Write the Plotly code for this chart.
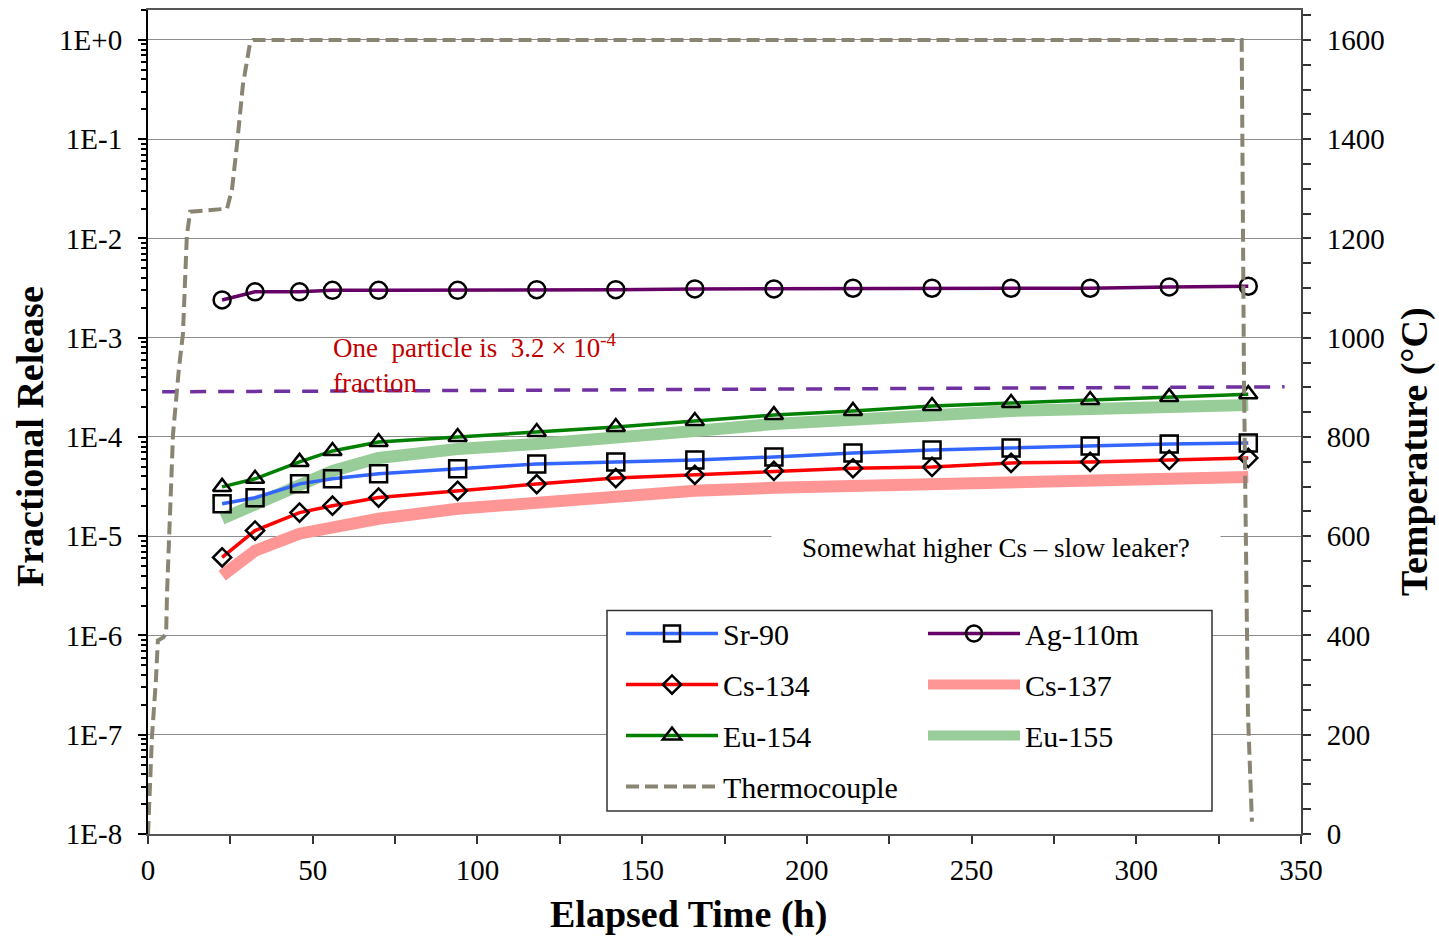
import plotly.graph_objects as go

# ---------------- data ----------------
time_h = [22.5, 32.5, 46, 56, 70, 94, 118, 142, 166, 190, 214, 238, 262, 286, 310, 334]

sr90 = [2.12e-5, 2.44e-5, 3.37e-5, 3.79e-5, 4.25e-5, 4.77e-5, 5.35e-5, 5.61e-5,
        5.87e-5, 6.29e-5, 6.90e-5, 7.40e-5, 7.75e-5, 8.12e-5, 8.51e-5, 8.70e-5]
ag110m = [2.4e-3, 2.9e-3, 2.9e-3, 3.0e-3, 3.0e-3, 3.0e-3, 3.05e-3, 3.05e-3,
          3.1e-3, 3.1e-3, 3.15e-3, 3.15e-3, 3.15e-3, 3.15e-3, 3.25e-3, 3.3e-3]
cs134 = [6.12e-6, 1.14e-5, 1.73e-5, 2.03e-5, 2.45e-5, 2.87e-5, 3.35e-5, 3.85e-5,
         4.15e-5, 4.55e-5, 4.84e-5, 4.99e-5, 5.48e-5, 5.61e-5, 5.87e-5, 6.15e-5]
cs137 = [4.01e-6, 7.15e-6, 1.06e-5, 1.22e-5, 1.50e-5, 1.89e-5, 2.19e-5, 2.55e-5,
         2.87e-5, 3.07e-5, 3.22e-5, 3.45e-5, 3.61e-5, 3.70e-5, 3.87e-5, 3.96e-5]
eu154 = [3.14e-5, 3.79e-5, 5.61e-5, 7.23e-5, 8.91e-5, 1.0e-4, 1.12e-4, 1.26e-4,
         1.45e-4, 1.66e-4, 1.83e-4, 2.05e-4, 2.20e-4, 2.36e-4, 2.52e-4, 2.70e-4]
eu155 = [1.50e-5, 2.12e-5, 3.30e-5, 4.55e-5, 6.15e-5, 7.57e-5, 8.51e-5, 1.02e-4,
         1.15e-4, 1.35e-4, 1.52e-4, 1.66e-4, 1.83e-4, 1.91e-4, 2.00e-4, 2.10e-4]

tc_time = [0, 0.6, 1.2, 2.4, 3.0, 4.6, 5.5, 5.8, 7.6, 9.4, 10.6, 11.8, 12.8, 24.0,
           25.5, 27.0, 28.8, 31.0, 31.9, 332.0, 332.4, 332.7, 333.9, 335.1]
tc_temp = [0, 108, 195, 310, 390, 396, 404, 490, 806, 939, 1007, 1206, 1254, 1260,
           1299, 1388, 1509, 1595, 1600, 1600, 1073, 912, 243, 25]

particle_time = [4.3, 345]
particle_frac = [2.85e-4, 3.2e-4]

left_tickvals = [1e-8, 1e-7, 1e-6, 1e-5, 1e-4, 1e-3, 1e-2, 1e-1, 1]
left_ticktext = ["1E-8", "1E-7", "1E-6", "1E-5", "1E-4", "1E-3", "1E-2", "1E-1", "1E+0"]
right_tickvals = [0, 200, 400, 600, 800, 1000, 1200, 1400, 1600]
x_tickvals = [0, 50, 100, 150, 200, 250, 300, 350]

FONT = "Liberation Serif, Times New Roman, serif"

fig = go.Figure()

# thick bands first
fig.add_trace(go.Scatter(x=time_h, y=cs137, name="Cs-137", mode="lines",
                         line=dict(color="rgb(255,150,150)", width=12),
                         legend="legend2", legendgroup="cs137", legendrank=2))
fig.add_trace(go.Scatter(x=time_h, y=eu155, name="Eu-155", mode="lines",
                         line=dict(color="rgb(152,204,152)", width=12),
                         legend="legend2", legendgroup="eu155", legendrank=3))


def mk(symbol, size):
    return dict(symbol=symbol, color="black", size=size, line=dict(color="black", width=2.5))


fig.add_trace(go.Scatter(x=time_h, y=sr90, name="Sr-90", mode="lines+markers",
                         line=dict(color="rgb(51,102,255)", width=3.5),
                         marker=mk("square-open", 17),
                         legendgroup="sr90", legendrank=1))
fig.add_trace(go.Scatter(x=time_h, y=cs134, name="Cs-134", mode="lines+markers",
                         line=dict(color="rgb(255,0,0)", width=3.5),
                         marker=mk("diamond-open", 14),
                         legendgroup="cs134", legendrank=2))
fig.add_trace(go.Scatter(x=time_h, y=eu154, name="Eu-154", mode="lines+markers",
                         line=dict(color="rgb(0,128,0)", width=3.5),
                         marker=mk("triangle-up-open", 16),
                         legendgroup="eu154", legendrank=3))
fig.add_trace(go.Scatter(x=time_h, y=ag110m, name="Ag-110m", mode="lines+markers",
                         line=dict(color="rgb(102,0,102)", width=3.5),
                         marker=mk("circle-open", 17),
                         legend="legend2", legendgroup="ag110m", legendrank=1))

fig.add_trace(go.Scatter(x=particle_time, y=particle_frac, mode="lines", showlegend=False,
                         line=dict(color="rgb(112,48,160)", width=3.5, dash="16px,12px"),
                         hoverinfo="skip"))

fig.add_trace(go.Scatter(x=tc_time, y=tc_temp, name="Thermocouple", mode="lines",
                         line=dict(color="rgb(138,133,115)", width=4, dash="13px,6px"),
                         yaxis="y2", legendgroup="tc", legendrank=4))

fig.update_layout(
    width=1439, height=936,
    margin=dict(l=148, r=138, t=8, b=102),
    paper_bgcolor="white", plot_bgcolor="white",
    font=dict(family=FONT, size=29, color="black"),
    xaxis=dict(range=[0, 350], tickvals=x_tickvals, ticks="outside", ticklen=8,
               tickwidth=2, tickcolor="#333", showgrid=False, zeroline=False,
               showline=True, linecolor="#555", linewidth=2, mirror=True,
               minor=dict(ticks="outside", ticklen=8, tickwidth=2, tickcolor="#333",
                          dtick=25, tick0=0, showgrid=False),
               tickfont=dict(size=29), ticklabelstandoff=1),
    yaxis=dict(type="log", range=[-8, 0.3015], tickvals=left_tickvals,
               ticktext=left_ticktext, ticks="outside", ticklen=8, tickwidth=2,
               tickcolor="black", showgrid=True, gridcolor="#8c8c8c", gridwidth=1.2,
               zeroline=False, showline=True, linecolor="black", linewidth=2,
               minor=dict(ticks="outside", ticklen=5, tickwidth=1.5, tickcolor="black",
                          tickmode="linear", dtick="D1", showgrid=False),
               tickfont=dict(size=29), ticklabelstandoff=10),
    yaxis2=dict(overlaying="y", side="right", range=[0, 1660.3], tickvals=right_tickvals,
                ticks="outside", ticklen=8, tickwidth=2, tickcolor="#333",
                showgrid=False, zeroline=False, showline=True, linecolor="#444",
                linewidth=2,
                minor=dict(ticks="outside", ticklen=8, tickwidth=2, tickcolor="#333",
                           dtick=50, tick0=0, showgrid=False),
                tickfont=dict(size=29), ticklabelstandoff=10),
    legend=dict(x=(621 - 148) / 1153, y=(834 - 607) / 826, xanchor="left", yanchor="top",
                bgcolor="rgba(0,0,0,0)", borderwidth=0, font=dict(size=30),
                tracegroupgap=9, itemwidth=92, traceorder="grouped"),
    legend2=dict(x=(923 - 148) / 1153, y=(834 - 607) / 826, xanchor="left", yanchor="top",
                 bgcolor="rgba(0,0,0,0)", borderwidth=0, font=dict(size=30),
                 tracegroupgap=9, itemwidth=92, traceorder="grouped"),
    showlegend=True,
)

# legend frame
fig.add_shape(type="rect", xref="paper", yref="paper",
              x0=(607 - 148) / 1153, x1=(1212 - 148) / 1153,
              y0=(834 - 811) / 826, y1=(834 - 610) / 826,
              line=dict(color="#333", width=1.5), fillcolor="white", layer="above")

# axis titles
fig.add_annotation(xref="paper", yref="paper", x=(688 - 148) / 1153, y=(834 - 915) / 826,
                   xanchor="center", yanchor="middle", showarrow=False,
                   text="<b>Elapsed Time (h)</b>", font=dict(size=38))
fig.add_annotation(xref="paper", yref="paper", x=(30 - 148) / 1153, y=(834 - 436) / 826,
                   xanchor="center", yanchor="middle", showarrow=False, textangle=-90,
                   text="<b>Fractional Release</b>", font=dict(size=38))
fig.add_annotation(xref="paper", yref="paper", x=(1415 - 148) / 1153, y=(834 - 451) / 826,
                   xanchor="center", yanchor="middle", showarrow=False, textangle=-90,
                   text="<b>Temperature (°C)</b>", font=dict(size=38))

fig.add_annotation(xref="paper", yref="paper", x=(331 - 148) / 1153, y=(834 - 326) / 826,
                   xanchor="left", yanchor="top", align="left", showarrow=False,
                   text="One  particle is  3.2 × 10<sup>-4</sup><br>fraction",
                   font=dict(size=27, color="rgb(192,0,0)"))
fig.add_annotation(xref="paper", yref="paper", x=(996 - 148) / 1153, y=(834 - 547) / 826,
                   xanchor="center", yanchor="middle", showarrow=False,
                   text="Somewhat higher Cs – slow leaker?", bgcolor="white", borderpad=30,
                   font=dict(size=27, color="black"))

fig.write_html("out.html")
